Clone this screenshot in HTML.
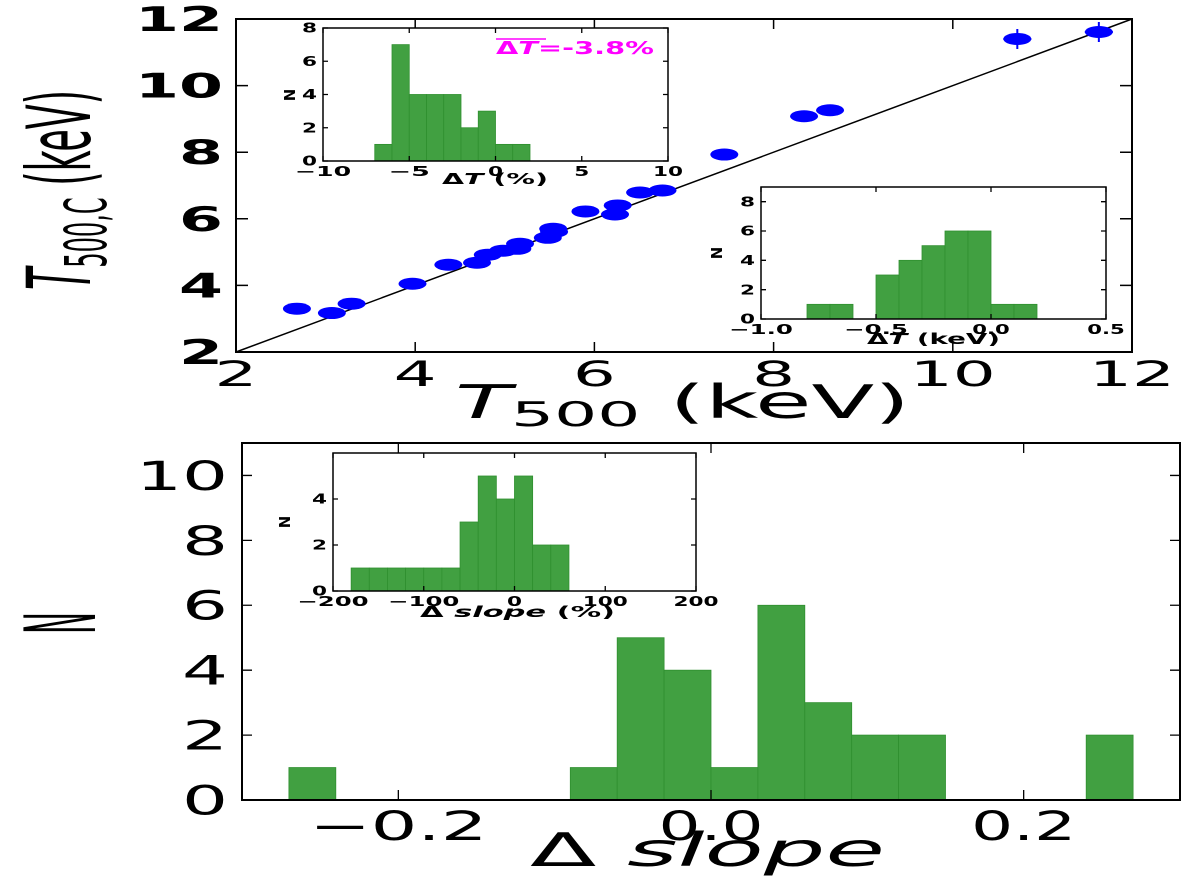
<!DOCTYPE html>
<html><head><meta charset="utf-8"><style>
body{margin:0;background:#fff;width:1200px;height:885px;overflow:hidden}
svg{display:block}
text{font-family:"DejaVu Sans","Liberation Sans",sans-serif;fill:#000}
</style></head><body>
<svg id="fig" width="1200" height="885" viewBox="0 0 1200 885" xmlns="http://www.w3.org/2000/svg"></svg>
<script>
// scatter data
const scatterX = [2.68,3.07,3.29,3.97,4.37,4.69,4.81,4.98,5.14,5.17,5.48,5.54,5.55,5.90,6.23,6.26,6.51,6.76,7.45,8.34,8.63,10.72,11.63];
const scatterY = [3.30,3.17,3.45,4.05,4.62,4.68,4.92,5.04,5.10,5.25,5.43,5.70,5.61,6.22,6.13,6.40,6.79,6.85,7.93,9.08,9.26,11.40,11.61];
const errPointIdx = [21,22];
const mainTicks = [2,4,6,8,10,12];
// inset 1: delta T %
const h1Edges = [-7,-6,-5,-4,-3,-2,-1,0,1,2];
const h1Counts = [1,7,4,4,4,2,3,1,1];
const h1XTicks = [-10,-5,0,5,10];
const h1XLabels = ["\u221210","\u22125","0","5","10"];
const h1YTicks = [0,2,4,6,8];
// inset 2: delta T keV
const h2Edges = [-0.8,-0.7,-0.6,-0.5,-0.4,-0.3,-0.2,-0.1,0,0.1,0.2];
const h2Counts = [1,1,0,3,4,5,6,6,1,1];
const h2XTicks = [-1.0,-0.5,0.0,0.5];
const h2XLabels = ["\u22121.0","\u22120.5","0.0","0.5"];
const h2YTicks = [0,2,4,6,8];
// bottom main: delta slope
const hsEdges = [-0.27,-0.24,-0.21,-0.18,-0.15,-0.12,-0.09,-0.06,-0.03,0,0.03,0.06,0.09,0.12,0.15,0.18,0.21,0.24,0.27];
const hsCounts = [1,0,0,0,0,0,1,5,4,1,6,3,2,2,0,0,0,2];
const hsXTicks = [-0.2,0.0,0.2];
const hsXLabels = ["\u22120.2","0.0","0.2"];
const hsYTicks = [0,2,4,6,8,10];
// inset 3: delta slope %
const h3Edges = [-180,-160,-140,-120,-100,-80,-60,-40,-20,0,20,40,60];
const h3Counts = [1,1,1,1,1,1,3,5,4,5,2,2];
const h3XTicks = [-200,-100,0,100,200];
const h3XLabels = ["\u2212200","\u2212100","0","100","200"];
const h3YTicks = [0,2,4];

const NS="http://www.w3.org/2000/svg";
const svg=document.getElementById('fig');
function mk(tag,attrs,parent){const e=document.createElementNS(NS,tag);for(const k in attrs)e.setAttribute(k,attrs[k]);(parent||svg).appendChild(e);return e;}
function txt(s,attrs,parent){const e=mk('text',attrs,parent);e.textContent=s;return e;}
function lin(a,b,c,d){return v=>c+(v-a)*(d-c)/(b-a);}
function wlen(s,cw){let w=0;for(const ch of s){w+= ch==='\u2212'?cw*1.75:(ch==='.'?cw*0.5:cw);}return w;}
function wide(s,attrs,cw,parent){attrs.textLength=wlen(s,cw);attrs.lengthAdjust='spacingAndGlyphs';return txt(s,attrs,parent);}

// ===== top main scatter =====
const tx=lin(2,12,236,1132), ty=lin(2,12,352,19);
const gTop=mk('g',{});


const diag=mk('line',{x1:tx(2),y1:ty(2),x2:tx(12),y2:ty(12),stroke:'#000','stroke-width':1.5},gTop);


scatterX.forEach((x,i)=>{
  const cx=tx(x), cy=ty(scatterY[i]);
  if(errPointIdx.includes(i)){
    const eb=mk('path',{d:`M${cx-14} ${cy}H${cx+14}M${cx} ${cy-10}V${cy+10}`,stroke:'#0000ff','stroke-width':2},gTop);
    
    
  }
  const p=mk('ellipse',{cx:cx,cy:cy,rx:14,ry:6,fill:'#0000ff'},gTop);
  
  
});
const fr1=mk('rect',{x:236,y:19,width:896,height:333,fill:'none',stroke:'#000','stroke-width':2},gTop);


mainTicks.forEach(v=>{
  mk('path',{d:`M${tx(v)} 352v-10M${tx(v)} 19v10M236 ${ty(v)}h12M1132 ${ty(v)}h-12`,stroke:'#000','stroke-width':1.5},gTop);
  const xl=wide(String(v),{x:tx(v),y:386,'text-anchor':'middle','font-size':35},43,gTop);
  
  
  const yl=wide(String(v),{x:223,y:ty(v)+12,'text-anchor':'end','font-size':34,'font-weight':'bold'},44,gTop);
  
  
});

// ===== histogram helper =====
function hist(cfg){
  const g=mk('g',{});
  
  
  const X=lin(cfg.xmin,cfg.xmax,cfg.L,cfg.R), Y=lin(0,cfg.ymax,cfg.B,cfg.T);
  mk('rect',{x:cfg.L,y:cfg.T,width:cfg.R-cfg.L,height:cfg.B-cfg.T,fill:'#fff'},g);
  cfg.counts.forEach((c,i)=>{
    if(c<=0)return;
    const x0=X(cfg.edges[i]),x1=X(cfg.edges[i+1]);
    const b=mk('rect',{x:x0,y:Y(c),width:x1-x0,height:cfg.B-Y(c),fill:'#41a041',stroke:'#2f8f2f','stroke-width':0.8},g);
    
    
  });
  mk('rect',{x:cfg.L,y:cfg.T,width:cfg.R-cfg.L,height:cfg.B-cfg.T,fill:'none',stroke:'#000','stroke-width':cfg.sw},g);
  cfg.xticks.forEach((v,i)=>{
    mk('path',{d:`M${X(v)} ${cfg.B}v${-cfg.tl}M${X(v)} ${cfg.T}v${cfg.tl}`,stroke:'#000','stroke-width':1.3},g);
    const t=wide(cfg.xlabels?cfg.xlabels[i]:String(v),{x:X(v),y:cfg.B+cfg.fs+cfg.xoff,'text-anchor':'middle','font-size':cfg.fs,'font-weight':cfg.fw},cfg.cw,g);
    
    
  });
  cfg.yticks.forEach(v=>{
    mk('path',{d:`M${cfg.L} ${Y(v)}h${cfg.tl}M${cfg.R} ${Y(v)}h${-cfg.tl}`,stroke:'#000','stroke-width':1.3},g);
    const t=wide(String(v),{x:cfg.L-cfg.yoff,y:Y(v)+cfg.fs*0.36,'text-anchor':'end','font-size':cfg.fs,'font-weight':cfg.fw},cfg.cwy||cfg.cw,g);
    
    
  });
  return g;
}
// bottom main
hist({name:'slope-histogram',L:242,R:1180,T:443,B:800,xmin:-0.3,xmax:0.3,ymax:11,edges:hsEdges,counts:hsCounts,xticks:hsXTicks,xlabels:hsXLabels,yticks:hsYTicks,fs:40,fw:'normal',sw:2,tl:10,xoff:0,yoff:14,cw:42,cwy:46});
// inset 1
hist({name:'inset-deltaT-percent',L:323,R:668,T:28,B:161,xmin:-10,xmax:10,ymax:8,edges:h1Edges,counts:h1Counts,xticks:h1XTicks,xlabels:h1XLabels,yticks:h1YTicks,fs:13,fw:'bold',sw:1.5,tl:5,xoff:2,yoff:6,cw:15});
// inset 2
hist({name:'inset-deltaT-kev',L:761,R:1106,T:187,B:319,xmin:-1,xmax:0.5,ymax:9,edges:h2Edges,counts:h2Counts,xticks:h2XTicks,xlabels:h2XLabels,yticks:h2YTicks,fs:13,fw:'bold',sw:1.5,tl:5,xoff:2,yoff:6,cw:15});
// inset 3
hist({name:'inset-slope-percent',L:333,R:696,T:453,B:591,xmin:-200,xmax:200,ymax:6,edges:h3Edges,counts:h3Counts,xticks:h3XTicks,xlabels:h3XLabels,yticks:h3YTicks,fs:13,fw:'bold',sw:1.5,tl:5,xoff:2,yoff:6,cw:15});
</script>
<svg width="1200" height="885" style="position:absolute;left:0;top:0" xmlns="http://www.w3.org/2000/svg">
<g font-family="DejaVu Sans, Liberation Sans, sans-serif">
  <text transform="translate(90,290) rotate(-90)" font-size="88" textLength="200" lengthAdjust="spacingAndGlyphs"><tspan font-style="italic">T</tspan><tspan font-size="58" dy="16">500,C</tspan><tspan dy="-16"> (keV)</tspan></text>
  <text x="455" y="418" font-size="46" textLength="455" lengthAdjust="spacingAndGlyphs"><tspan font-style="italic">T</tspan><tspan font-size="34" dy="8">500</tspan><tspan dy="-8"> (keV)</tspan></text>
  <text transform="translate(95,634) rotate(-90)" font-size="98" textLength="22" lengthAdjust="spacingAndGlyphs">N</text>
  <text x="530" y="866" font-size="46" textLength="355" lengthAdjust="spacingAndGlyphs">Δ <tspan font-style="italic">slope</tspan></text>
  <text x="442" y="184" font-size="15" font-weight="bold" textLength="106" lengthAdjust="spacingAndGlyphs">Δ<tspan font-style="italic">T</tspan> (%)</text>
  <text transform="translate(295,95) rotate(-90)" font-size="15" font-weight="bold" text-anchor="middle">N</text>
  <text x="496" y="54" font-size="18" font-weight="bold" textLength="158" lengthAdjust="spacingAndGlyphs" style="fill:#ff00ff">Δ<tspan font-style="italic">T</tspan>=-3.8%</text>
  <line x1="496" y1="39" x2="546" y2="39" stroke="#ff00ff" stroke-width="1.5"/>
  <text x="867" y="344" font-size="15" font-weight="bold" textLength="133" lengthAdjust="spacingAndGlyphs">Δ<tspan font-style="italic">T</tspan> (keV)</text>
  <text transform="translate(722,253) rotate(-90)" font-size="15" font-weight="bold" text-anchor="middle">N</text>
  <text x="420" y="617" font-size="15" font-weight="bold" textLength="195" lengthAdjust="spacingAndGlyphs">Δ <tspan font-style="italic">slope</tspan> (%)</text>
  <text transform="translate(290,522) rotate(-90)" font-size="15" font-weight="bold" text-anchor="middle">N</text>
</g>
</svg>
</body></html>
